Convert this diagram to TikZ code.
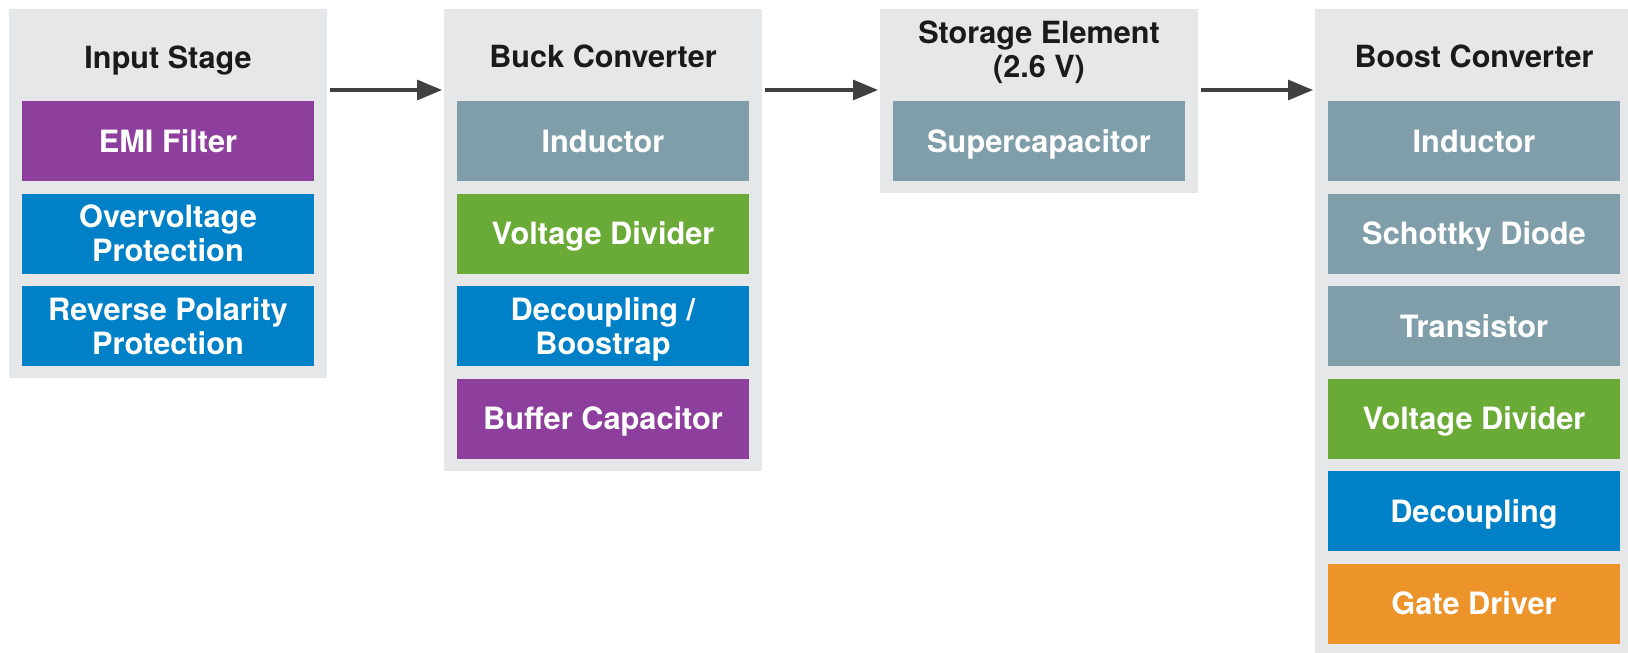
\documentclass[tikz,border=0pt]{standalone}
\usepackage{fontspec}
\setmainfont{TeX Gyre Heros}
\usepackage{xcolor}
\usetikzlibrary{arrows.meta}
\usetikzlibrary{positioning}

\definecolor{panel}{HTML}{E6E7E8}
\definecolor{titletext}{HTML}{1A1A1A}
\definecolor{arrowgray}{HTML}{404040}
\definecolor{filterpurple}{HTML}{8E3F9D}
\definecolor{protectblue}{HTML}{0080C6}
\definecolor{powerslate}{HTML}{7F9EA9}
\definecolor{dividergreen}{HTML}{6AAA36}
\definecolor{driverorange}{HTML}{EC9329}

\tikzset{
    stage/.style={fill=panel, minimum width=3.18cm, anchor=north, inner sep=0pt, outer sep=0pt},
    stagetitle/.style={font=\bfseries\fontsize{8.7}{9.7}\selectfont, text=titletext,
        align=center, text depth=0pt, inner sep=0pt},
    part/.style={minimum width=2.92cm, minimum height=0.8cm, inner sep=0pt, outer sep=0pt,
        text=white, font=\bfseries\fontsize{8.75}{9.7}\selectfont, align=center, text depth=0pt},
    flow/.style={draw=arrowgray, line width=0.9pt, shorten <=0.03cm, shorten >=0.02cm,
        -{Triangle[length=0.25cm, width=0.2cm]}},
}

\begin{document}
\begin{tikzpicture}
    \useasboundingbox (0, 0) rectangle (16.28, -6.52);
    \clip (0, 0) rectangle (16.28, -6.52);

    % the four stages
    \node[stage, minimum height=3.69cm] (input) at (1.68, -0.09) {};
    \node[stage, minimum height=4.62cm] (buck) at (6.03, -0.09) {};
    \node[stage, minimum height=1.84cm] (storage) at (10.39, -0.09) {};
    \node[stage, minimum height=6.70cm] (boost) at (14.74, -0.09) {};

    \node[stagetitle] (inputtitle) at (1.68, -0.57) {Input Stage};
    \node[stagetitle] (bucktitle) at (6.03, -0.565) {Buck Converter};
    \node[stagetitle] (storagetitle) at (10.39, -0.49) {Storage Element\\(2.6 V)};
    \node[stagetitle] (boosttitle) at (14.74, -0.56) {Boost Converter};

    % input stage
    \node[part, fill=filterpurple] (emi) at (1.68, -1.41) {EMI Filter};
    \node[part, fill=protectblue, below=0.125cm of emi] (overvolt) {Overvoltage\\Protection};
    \node[part, fill=protectblue, below=0.125cm of overvolt] (reverse) {Reverse Polarity\\Protection};

    % buck converter
    \node[part, fill=powerslate] (buckind) at (6.03, -1.41) {Inductor};
    \node[part, fill=dividergreen, below=0.125cm of buckind] (buckdiv) {Voltage Divider};
    \node[part, fill=protectblue, below=0.125cm of buckdiv] (buckdec) {Decoupling /\\Boostrap};
    \node[part, fill=filterpurple, below=0.125cm of buckdec] (buffer) {Buffer Capacitor};

    % storage element
    \node[part, fill=powerslate] (supercap) at (10.39, -1.41) {Supercapacitor};

    % boost converter
    \node[part, fill=powerslate] (boostind) at (14.74, -1.41) {Inductor};
    \node[part, fill=powerslate, below=0.125cm of boostind] (schottky) {Schottky Diode};
    \node[part, fill=powerslate, below=0.125cm of schottky] (transistor) {Transistor};
    \node[part, fill=dividergreen, below=0.125cm of transistor] (boostdiv) {Voltage Divider};
    \node[part, fill=protectblue, below=0.125cm of boostdiv] (boostdec) {Decoupling};
    \node[part, fill=driverorange, below=0.125cm of boostdec] (gatedrv) {Gate Driver};

    % arrows between stages
    \coordinate (flowrow) at (0, -0.90);
    \draw[flow] (input.east |- flowrow) -- (buck.west |- flowrow);
    \draw[flow] (buck.east |- flowrow) -- (storage.west |- flowrow);
    \draw[flow] (storage.east |- flowrow) -- (boost.west |- flowrow);
\end{tikzpicture}
\end{document}
